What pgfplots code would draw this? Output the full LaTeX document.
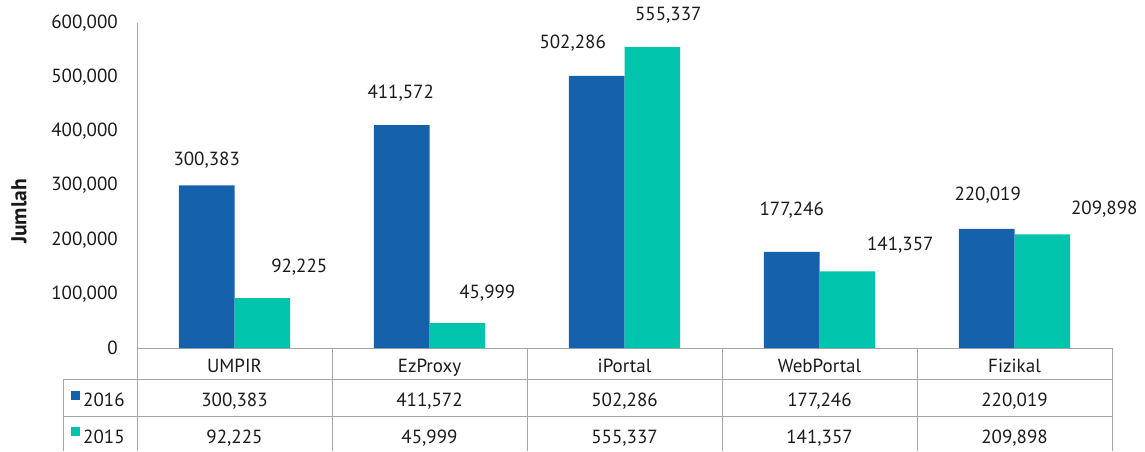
\documentclass[border=0pt]{standalone}
\usepackage{fontspec}
\setmainfont{PT Sans}
\usepackage{pgfplots}
\usepackage{pgfplotstable}
\pgfplotsset{compat=1.18}
\definecolor{blue16}{RGB}{22,97,171}
\definecolor{teal15}{RGB}{0,196,171}
\definecolor{gridgray}{RGB}{165,165,165}
\definecolor{txt}{RGB}{26,26,26}
\pgfkeys{/pgf/number format/.cd, fixed, precision=0, 1000 sep={,}, assume math mode=true}

% x = category index, y = value, dx/dy = label offset (pt) from bar top
\pgfplotstableread{
x y dx dy
0 300383 0 25
1 411572 -1 32
2 502286 -24 33
3 177246 0 42
4 220019 1 34
}\datasixteen
\pgfplotstableread{
x y dx dy
0 92225 37 31
1 45999 30 30
2 555337 16 32
3 141357 53 26
4 209898 62 25
}\datafifteen

\begin{document}
\fontsize{19}{23}\selectfont
\color{txt}
\begin{tikzpicture}
\path[use as bounding box] (0pt,0pt) rectangle (1145pt,451pt);
\begin{axis}[
 at={(137pt,103pt)}, anchor=south west, scale only axis,
 width=975pt, height=325pt,
 xmin=-0.5, xmax=4.5, ymin=0, ymax=600000,
 axis x line*=bottom, axis y line*=left,
 axis line style={draw=gridgray, line width=1pt},
 xtick={0,...,4}, xticklabels={UMPIR,EzProxy,iPortal,WebPortal,Fizikal},
 xticklabel style={anchor=base, yshift=-24pt, text=txt},
 ytick={0,100000,...,600000},
 scaled y ticks=false,
 yticklabel style={/pgf/number format/fixed, /pgf/number format/precision=0, /pgf/number format/1000 sep={,}, /pgf/number format/assume math mode=true},
 yticklabel style={anchor=east, inner sep=0pt, xshift=-19pt, text=txt},
 major tick length=0pt, tick style={draw=none},
 ylabel={\fontsize{21.5}{25}\selectfont\bfseries Jumlah},
 ylabel style={at={(axis description cs:-0.121,0.42)}, anchor=center, text=txt},
 clip=false,
 ybar, bar width=0.285,
 point meta=explicit,
 nodes near coords={\pgfmathprintnumber{\pgfplotspointmeta}},
 every node near coord/.append style={anchor=center, text=txt, xshift=\dx*1pt, yshift=\dy*1pt},
]
\addplot[fill=blue16, draw=none, bar shift=-0.1425,
  visualization depends on={\thisrow{dx}\as\dx},
  visualization depends on={\thisrow{dy}\as\dy}]
  table[x=x, y=y, meta=y] {\datasixteen};
\addplot[fill=teal15, draw=none, bar shift=0.1425,
  visualization depends on={\thisrow{dx}\as\dx},
  visualization depends on={\thisrow{dy}\as\dy}]
  table[x=x, y=y, meta=y] {\datafifteen};
\end{axis}
% data table below the chart
\begin{scope}[draw=gridgray, line width=1pt]
\draw (63pt,72pt) -- (1112pt,72pt);
\draw (63pt,35pt) -- (1112pt,35pt);
\draw (63pt,72pt) -- (63pt,0pt);
\draw (137pt,103pt) -- (137pt,0pt);
\foreach \k in {1,...,5} \draw ({137pt+\k*195pt},103pt) -- ({137pt+\k*195pt},0pt);
\end{scope}
\fill[blue16] (70.5pt,51.5pt) rectangle (79.5pt,60.5pt);
\fill[teal15] (70.5pt,15pt) rectangle (79.5pt,24pt);
\node[anchor=base west, inner sep=0pt, text=txt] at (83pt,45pt) {2016};
\node[anchor=base west, inner sep=0pt, text=txt] at (83pt,8pt) {2015};
\foreach \i in {0,...,4} {
  \pgfplotstablegetelem{\i}{y}\of\datasixteen
  \node[anchor=base, inner sep=0pt, text=txt] at ({137pt+195pt*(\i+0.5)},45pt) {\pgfmathprintnumber{\pgfplotsretval}};
  \pgfplotstablegetelem{\i}{y}\of\datafifteen
  \node[anchor=base, inner sep=0pt, text=txt] at ({137pt+195pt*(\i+0.5)},8pt) {\pgfmathprintnumber{\pgfplotsretval}};
}
\end{tikzpicture}
\end{document}
